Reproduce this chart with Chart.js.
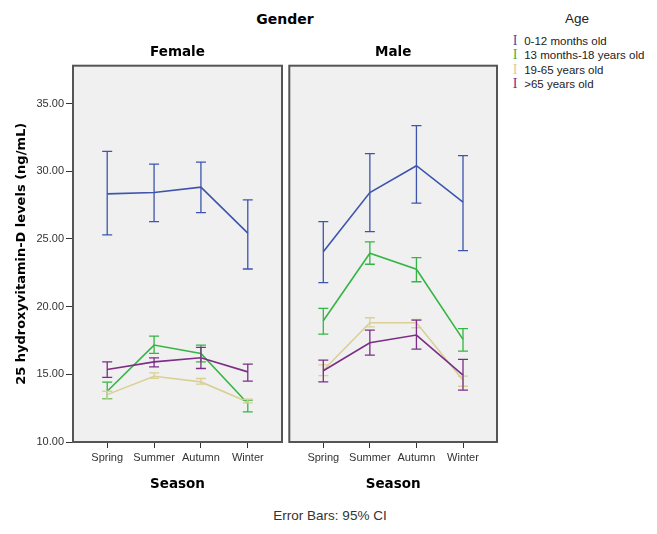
<!DOCTYPE html>
<html>
<head>
<meta charset="utf-8">
<script src="https://cdn.jsdelivr.net/npm/chart.js@4"></script>
<style>
  body { margin: 0; background: #fff; width: 657px; height: 534px; overflow: hidden; position: relative; font-family: "Liberation Sans", Arial, sans-serif; }
  canvas { position: absolute; top: 0; }
  #leftChart { left: 0; }
  #rightChart { left: 285px; }
  .txt { position: absolute; white-space: nowrap; color: #000; }
  #gender { left: 0; width: 570px; top: 11px; text-align: center; font: bold 14px "DejaVu Sans", sans-serif; }
  #legendTitle { left: 540px; width: 74px; top: 11px; text-align: center; font: 13.5px "Liberation Sans", Arial, sans-serif; color: #222; }
  #legend { left: 509px; top: 33px; font: 11.5px "Liberation Sans", Arial, sans-serif; color: #222; }
  #legend div { height: 14.3px; line-height: 14.3px; }
  #legend span.mk { display: inline-block; width: 12px; font: 14px "Liberation Serif", serif; text-align: center; }
  #footer { left: 200px; width: 260px; top: 508px; height: 14px; overflow: hidden; text-align: center; font: 13.5px "Liberation Sans", Arial, sans-serif; color: #333; line-height: 16px; }
</style>
</head>
<body>
<div id="gender" class="txt">Gender</div>
<div id="legendTitle" class="txt">Age</div>
<div id="legend" class="txt"></div>
<canvas id="leftChart" width="284" height="502"></canvas>
<canvas id="rightChart" width="215" height="502"></canvas>
<div id="footer" class="txt">Error Bars: 95% CI</div>

<script>
// categories
const seasons = ["Spring", "Summer", "Autumn", "Winter"];
const ageGroups = ["0-12 months old", "13 months-18 years old", "19-65 years old", ">65 years old"];
const ageColors = ["#3d55ad", "#35b544", "#d9d097", "#7c2d86"];

// female: one row per age group, one value per season
const femaleMean = [
  [28.33, 28.43, 28.83, 25.43],
  [13.75, 17.16, 16.54, 12.84],
  [13.50, 14.86, 14.44, 12.96],
  [15.36, 15.92, 16.22, 15.18],
];
const femaleLower = [
  [25.30, 26.28, 26.95, 22.78],
  [13.20, 16.54, 15.92, 12.22],
  [13.16, 14.70, 14.27, 12.89],
  [14.77, 15.55, 15.43, 14.49],
];
const femaleUpper = [
  [31.47, 30.53, 30.68, 27.89],
  [14.42, 17.82, 17.16, 13.09],
  [13.75, 15.10, 14.69, 13.16],
  [15.92, 16.22, 16.99, 15.75],
];

// male
const maleMean = [
  [24.06, 28.43, 30.41, 27.72],
  [18.96, 23.94, 22.76, 17.58],
  [15.30, 18.81, 18.81, 14.57],
  [15.26, 17.33, 17.90, 14.94],
];
const maleLower = [
  [21.77, 25.54, 27.65, 24.14],
  [17.97, 23.13, 21.84, 16.71],
  [14.90, 18.51, 18.44, 14.12],
  [14.44, 16.42, 16.86, 13.83],
];
const maleUpper = [
  [26.28, 31.30, 33.37, 31.15],
  [19.87, 24.78, 23.62, 18.37],
  [15.70, 19.18, 19.06, 14.86],
  [16.05, 18.27, 19.00, 16.10],
];

// y axis
const yMin = 10;
const yMax = 37.8;
const yStep = 5;

// legend (html)
const legendEl = document.getElementById("legend");
ageGroups.forEach((name, i) => {
  const row = document.createElement("div");
  row.innerHTML = '<span class="mk" style="color:' + ageColors[i] + '">I</span> ' + name.replace(">", "&gt;");
  legendEl.appendChild(row);
});

// grey panel, dark frame and panel title centred over the plot area
const panelFrame = {
  id: "panelFrame",
  beforeDatasetsDraw(chart) {
    const { ctx, chartArea: a } = chart;
    ctx.save();
    ctx.fillStyle = "#f0f0f0";
    ctx.fillRect(a.left, a.top, a.right - a.left, a.bottom - a.top);
    ctx.restore();
  },
  afterDraw(chart, args, opts) {
    const { ctx, chartArea: a } = chart;
    ctx.save();
    ctx.strokeStyle = "#555";
    ctx.lineWidth = 2;
    ctx.strokeRect(a.left, a.top, a.right - a.left, a.bottom - a.top);
    ctx.fillStyle = "#000";
    ctx.font = "bold 13.5px 'DejaVu Sans', sans-serif";
    ctx.textAlign = "center";
    ctx.textBaseline = "middle";
    ctx.fillText(opts.title, (a.left + a.right) / 2, a.top - 13);
    ctx.restore();
  },
};

// 95% CI bars drawn through the chart scales
const errorBars = {
  id: "errorBars",
  afterDatasetsDraw(chart) {
    const { ctx } = chart;
    const xs = chart.scales.x;
    const ys = chart.scales.y;
    ctx.save();
    ctx.lineWidth = 1.3;
    chart.data.datasets.forEach((ds) => {
      ctx.strokeStyle = ds.borderColor;
      ds.data.forEach((p, j) => {
        const x = xs.getPixelForValue(p.x);
        const yLo = ys.getPixelForValue(ds.errLow[j]);
        const yHi = ys.getPixelForValue(ds.errHigh[j]);
        ctx.beginPath();
        ctx.moveTo(x, yLo);
        ctx.lineTo(x, yHi);
        ctx.moveTo(x - 5, yLo);
        ctx.lineTo(x + 5, yLo);
        ctx.moveTo(x - 5, yHi);
        ctx.lineTo(x + 5, yHi);
        ctx.stroke();
      });
    });
    ctx.restore();
  },
};

function makeDatasets(mean, lower, upper) {
  return ageGroups.map((name, i) => ({
    label: name,
    data: mean[i].map((v, j) => ({ x: j, y: v })),
    errLow: lower[i],
    errHigh: upper[i],
    borderColor: ageColors[i],
    backgroundColor: ageColors[i],
    borderWidth: 1.6,
    pointRadius: 0,
    tension: 0,
    order: 3 - i,
  }));
}

function makeChart(canvasId, title, mean, lower, upper, showY) {
  const tickFont = { family: "'Liberation Sans', Arial, sans-serif", size: 11 };
  return new Chart(document.getElementById(canvasId), {
    type: "line",
    data: { datasets: makeDatasets(mean, lower, upper) },
    options: {
      responsive: false,
      animation: false,
      layout: { padding: showY ? { left: 0, right: 2, top: 65.7, bottom: 0 } : { left: 4.3, right: 3, top: 65.7, bottom: 0 } },
      plugins: {
        legend: { display: false },
        tooltip: { enabled: false },
        panelFrame: { title },
      },
      scales: {
        x: {
          type: "linear",
          min: -0.73,
          max: 3.73,
          afterFit: (s) => { s.height = 60; },
          border: { display: false },
          grid: { drawOnChartArea: false, drawTicks: true, tickLength: 6, color: "#333" },
          ticks: {
            stepSize: 1,
            includeBounds: false,
            autoSkip: false,
            maxRotation: 0,
            padding: 3,
            color: "#333",
            font: tickFont,
            callback: (v) => seasons[v] || "",
          },
          title: {
            display: true,
            text: "Season",
            color: "#000",
            font: { family: "'DejaVu Sans', sans-serif", size: 13.5, weight: "bold" },
            padding: { top: 0, bottom: 9 },
          },
        },
        y: {
          display: showY,
          min: yMin,
          max: yMax,
          afterFit: (s) => { s.width = showY ? 73 : 0; },
          border: { display: false },
          grid: { drawOnChartArea: false, drawTicks: true, tickLength: 7, color: "#333" },
          ticks: {
            stepSize: yStep,
            includeBounds: false,
            padding: 2,
            color: "#333",
            font: tickFont,
            callback: (v) => v.toFixed(2),
          },
          title: {
            display: true,
            text: "25 hydroxyvitamin-D levels (ng/mL)",
            color: "#000",
            font: { family: "'DejaVu Sans', sans-serif", size: 13, weight: "bold" },
            padding: { top: 14, bottom: 0 },
          },
        },
      },
    },
    plugins: [panelFrame, errorBars],
  });
}

makeChart("leftChart", "Female", femaleMean, femaleLower, femaleUpper, true);
makeChart("rightChart", "Male", maleMean, maleLower, maleUpper, false);
</script>
</body>
</html>
